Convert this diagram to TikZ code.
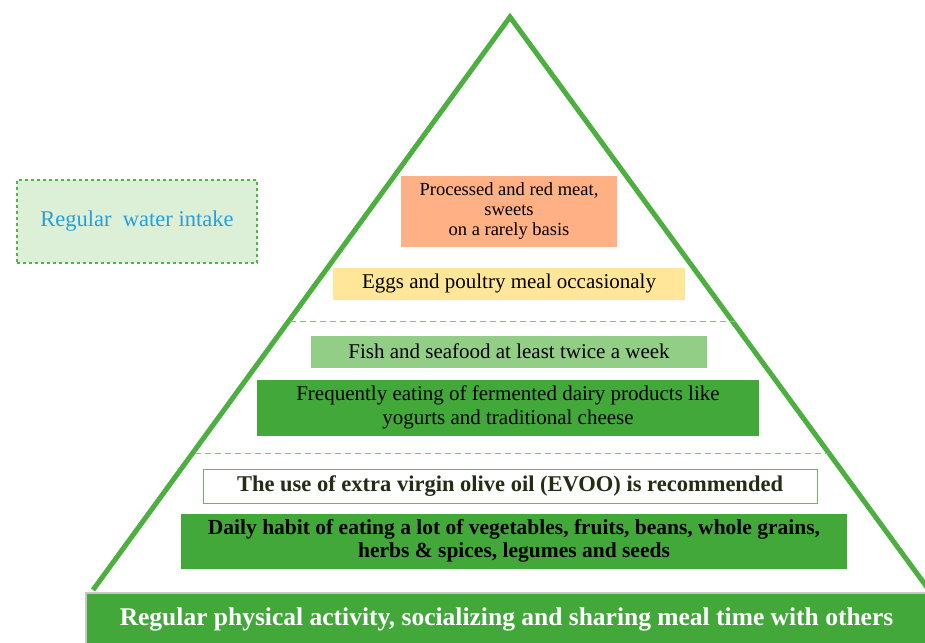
\documentclass[tikz,border=0pt]{standalone}
\usepackage{fontspec}
\setmainfont{Liberation Serif}
\definecolor{trigreen}{RGB}{76,175,64}
\definecolor{boxgreen}{RGB}{67,168,58}
\definecolor{lightgreen}{RGB}{147,206,134}
\definecolor{eggyellow}{RGB}{255,230,153}
\definecolor{meatorange}{RGB}{255,176,133}
\definecolor{waterfill}{RGB}{220,239,215}
\definecolor{waterborder}{RGB}{80,180,70}
\definecolor{watertext}{RGB}{40,160,215}
\definecolor{oilborder}{RGB}{110,180,100}
\definecolor{oiltext}{RGB}{35,45,20}
\definecolor{sepline}{RGB}{140,190,130}
\definecolor{baseborder}{RGB}{200,200,200}
\begin{document}
\begin{tikzpicture}[x=1pt,y=-1pt,
  box/.style={draw=none,inner sep=0pt,align=center,text=black},
  sep/.style={draw=sepline,line width=1pt,dash pattern=on 6pt off 4pt}]
\useasboundingbox (0,0) rectangle (925,642);
\clip (0,0) rectangle (925,642);
% pyramid
\coordinate (apex) at (510,17);
\coordinate (bl) at (93,590);
\coordinate (br) at (929,590);
\draw[trigreen,line width=5pt,line join=miter] (bl) -- (apex) -- (br);
% separators
\coordinate (s1l) at (290,321); \coordinate (s1r) at (735,321);
\coordinate (s2l) at (195,453); \coordinate (s2r) at (828,453);
\draw[sep] (s1l) -- (s1r);
\draw[sep] (s2l) -- (s2r);
% water
\node[box,fill=waterfill,draw=waterborder,line width=1.2pt,dashed,
  minimum width=240pt,minimum height=83pt,text=watertext,font=\fontsize{22.5}{26}\selectfont]
  (water) at (137,221.5) {Regular\ \ water intake};
% meat
\node[box,fill=meatorange,minimum width=216pt,minimum height=71pt,
  font=\fontsize{18.5}{20}\selectfont] (meat) at (509,211)
  {Processed and red meat,\\sweets\\on a rarely basis};
% eggs
\node[box,fill=eggyellow,minimum width=352pt,minimum height=32pt,
  font=\fontsize{21}{24}\selectfont] (eggs) at (509,283.5)
  {Eggs and poultry meal occasionaly};
% fish
\node[box,fill=lightgreen,minimum width=396pt,minimum height=32pt,
  font=\fontsize{21}{24}\selectfont] (fish) at (509,351.5)
  {Fish and seafood at least twice a week};
% dairy
\node[box,fill=boxgreen,minimum width=502pt,minimum height=56pt,
  font=\fontsize{21}{24}\selectfont] (dairy) at (508,407.5)
  {Frequently eating of fermented dairy products like\\yogurts and traditional cheese};
% oil
\node[box,fill=white,draw=oilborder,line width=0.8pt,minimum width=614pt,minimum height=34pt,
  text=oiltext,font=\bfseries\fontsize{22.5}{26}\selectfont] (oil) at (510,486.5)
  {The use of extra virgin\ olive oil\ (EVOO) is recommended};
% daily
\node[box,fill=boxgreen,minimum width=666pt,minimum height=55pt,
  font=\bfseries\fontsize{21.5}{23}\selectfont] (daily) at (514,541)
  {Daily habit of eating a lot of vegetables, fruits, beans, whole grains,\\herbs \& spices, legumes and seeds};
% base
\node[box,fill=boxgreen,draw=baseborder,line width=1.5pt,minimum width=841pt,minimum height=52pt,
  text=white,font=\bfseries\fontsize{25.5}{28}\selectfont] (base) at (506.5,619)
  {Regular physical activity, socializing and sharing meal time with others};
\end{tikzpicture}
\end{document}
